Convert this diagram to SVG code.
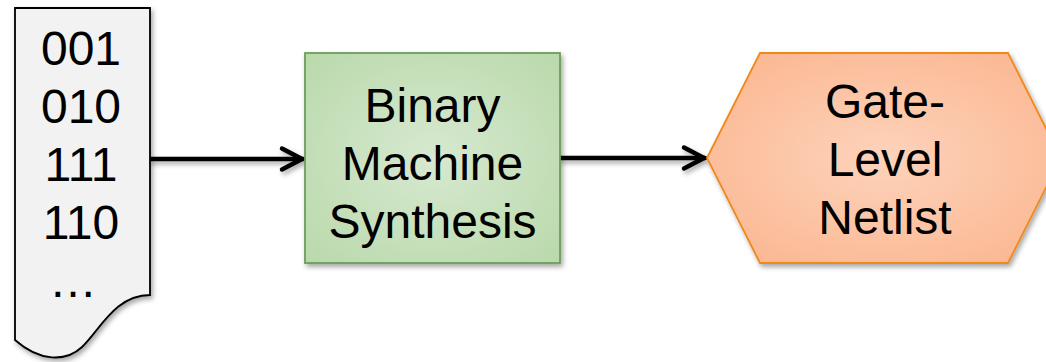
<svg xmlns="http://www.w3.org/2000/svg" width="1046" height="362" viewBox="0 0 1046 362">
  <style>
    .t { font-family: "Liberation Sans", Arial, sans-serif; font-size: 48px; fill: #000; text-anchor: middle; }
    .conn { stroke: #000; stroke-width: 4.5; fill: none; stroke-linecap: round; stroke-linejoin: round; }
    .head { stroke: #000; stroke-width: 4.5; fill: none; stroke-linecap: round; stroke-linejoin: round; }
  </style>
  <defs>
    <filter id="sh" x="-10%" y="-10%" width="130%" height="130%">
      <feDropShadow dx="2" dy="3" stdDeviation="2.5" flood-color="#000" flood-opacity="0.35"/>
    </filter>
    <filter id="shc" filterUnits="userSpaceOnUse" x="0" y="0" width="1046" height="362">
      <feDropShadow dx="2" dy="3" stdDeviation="2.5" flood-color="#000" flood-opacity="0.35"/>
    </filter>
    <radialGradient id="gGreen" cx="50%" cy="50%" r="70%">
      <stop offset="0" stop-color="#d7e9d0"/>
      <stop offset="1" stop-color="#b9d9ab"/>
    </radialGradient>
    <radialGradient id="gOrange" cx="50%" cy="50%" r="70%">
      <stop offset="0" stop-color="#fdd3bb"/>
      <stop offset="1" stop-color="#fbb48d"/>
    </radialGradient>
    <marker id="arr" viewBox="-24 -13 26 26" refX="0" refY="0" markerWidth="26" markerHeight="26" markerUnits="userSpaceOnUse" orient="auto" overflow="visible">
      <path class="head" d="M-21,-10.5 L-1,0 L-21,10.5"/>
    </marker>
  </defs>

  <g id="connectors" filter="url(#shc)">
    <path class="conn" d="M150,159 H303" marker-end="url(#arr)"/>
    <path class="conn" d="M560,158 H705" marker-end="url(#arr)"/>
  </g>

  <g id="input-doc">
    <path d="M15,8 H150 V295 C115,295 100,330 82,347 C66,362 40,362 15,340 Z" fill="#f2f2f2" stroke="#000" stroke-width="1.8" filter="url(#sh)"/>
    <text class="t" x="81" y="65">001</text>
    <text class="t" x="81" y="123">010</text>
    <text class="t" x="81" y="181">111</text>
    <text class="t" x="81" y="239">110</text>
    <text class="t" x="73" y="297">…</text>
  </g>

  <g id="synthesis">
    <rect x="305" y="53" width="255" height="210" fill="url(#gGreen)" stroke="#6b9e5a" stroke-width="1.8" filter="url(#sh)"/>
    <text class="t" x="432.5" y="122">Binary</text>
    <text class="t" x="432.5" y="180">Machine</text>
    <text class="t" x="432.5" y="238">Synthesis</text>
  </g>

  <g id="netlist">
    <polygon points="707,158 760,53 1008,53 1061,158 1008,263 760,263" fill="url(#gOrange)" stroke="#f0891f" stroke-width="1.8" filter="url(#sh)"/>
    <text class="t" x="885" y="118">Gate-</text>
    <text class="t" x="885" y="176">Level</text>
    <text class="t" x="885" y="234">Netlist</text>
  </g>
</svg>
